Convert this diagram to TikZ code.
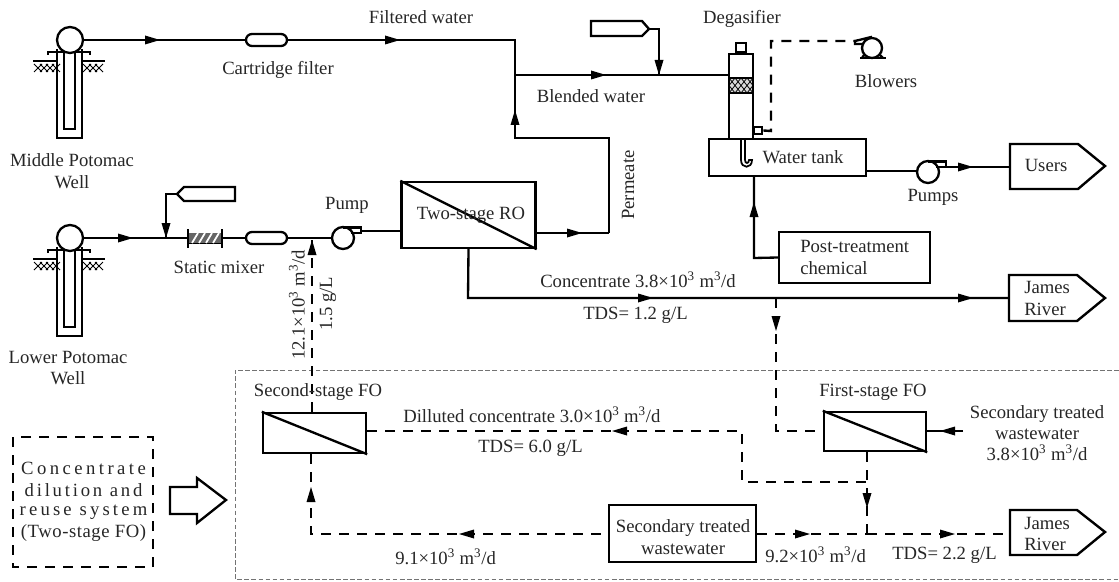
\documentclass[tikz,border=0pt]{standalone}
\usepackage{fontspec}
\setmainfont{Liberation Serif}
\usetikzlibrary{patterns}
\newcommand{\tipR}[2]{\fill[black] ({#1-15},{#2-4.5}) -- (#1,#2) -- ({#1-15},{#2+4.5}) -- cycle;}
\newcommand{\tipL}[2]{\fill[black] ({#1+15},{#2-4.5}) -- (#1,#2) -- ({#1+15},{#2+4.5}) -- cycle;}
\newcommand{\tipU}[2]{\fill[black] ({#1-4.5},{#2+15}) -- (#1,#2) -- ({#1+4.5},{#2+15}) -- cycle;}
\newcommand{\tipD}[2]{\fill[black] ({#1-4.5},{#2-15}) -- (#1,#2) -- ({#1+4.5},{#2-15}) -- cycle;}
\newcommand{\sq}[1]{\textsuperscript{#1}}
\newcommand{\wellsym}[2]{%
  \begin{scope}[shift={(#1,#2)}]
    \draw[pipe] (-13,9) -- (-13,98) -- (12,98) -- (12,9);
    \draw[pipe] (-6,10) -- (-6,89) -- (5,89) -- (5,10);
    \draw[pipe] (-22,15) -- (-22,12) -- (-6,12);
    \draw[pipe] (5,12) -- (20,12) -- (20,15);
    \draw[pipe] (-37,21) -- (-13,21);
    \draw[pipe] (12,21) -- (35,21);
    \foreach \xa in {-36,-30,-24,-18,13,19,25}{
      \draw[line width=0.6pt] (\xa,24) -- ({\xa+4},28) -- (\xa,32);
      \draw[line width=0.6pt] ({\xa+8},24) -- ({\xa+4},28) -- ({\xa+8},32);
    }
  \end{scope}}
\newcommand{\pumpsym}[3]{% x y name
  \node[circle,draw,pipe,fill=white,minimum size=22*0.75pt,inner sep=0] (#3) at (#1,#2) {};
  \draw[pipe] (#1,{#2-10.5}) -- ({#1+18},{#2-10.5}) -- ({#1+18},{#2-5}) -- ({#1+8},{#2-5});
}
\tikzset{
  pipe/.style={line width=1.75pt,line join=miter},
  dpipe/.style={line width=1.8pt,dash pattern=on 7.5pt off 6pt},
  thinbox/.style={draw=black!55,line width=0.6pt,dash pattern=on 3.5pt off 1.8pt},
  boxst/.style 2 args={draw,line width=1.8pt,fill=white,minimum width=#1*0.75pt,minimum height=#2*0.75pt,inner sep=0pt},
  txt/.style={inner sep=0pt,align=center,font=\fontsize{14}{16}\selectfont,text=black!85},
  pillst/.style={draw,line width=1.75pt,fill=white,rounded corners=4.5pt,minimum width=41*0.75pt,minimum height=12*0.75pt,inner sep=0pt},
  sgn/.style={draw,line width=1.8pt,fill=white,line join=miter},
}
\begin{document}
\begin{tikzpicture}[x=0.75pt,y=-0.75pt]
\useasboundingbox (0,0) rectangle (1119,581);
\fill[white] (0,0) rectangle (1119,581);
% reference points
\coordinate (jF) at (515,40);
\coordinate (jB) at (515,75);
\coordinate (permC) at (515,138);
\coordinate (permD) at (609,138);
\coordinate (permE) at (609,233);
\coordinate (hop1a) at (659,29);
\coordinate (hop1b) at (659,75);
\coordinate (hop2a) at (166,194);
\coordinate (hop2b) at (166,238);
\coordinate (concC) at (468,298);
\coordinate (jC) at (776,298);
\coordinate (jD) at (776,431);
\coordinate (retA) at (312,238);
\coordinate (loopA) at (311,534);
\coordinate (dilA) at (742,431);
\coordinate (dilB) at (742,482);
\coordinate (dilC) at (867,482);
\coordinate (jOut) at (867,534);
\coordinate (postA) at (754,258);
\coordinate (swIn) at (963,431);
\coordinate (blA) at (771,131);
\coordinate (blB) at (771,41);
\coordinate (blC) at (855,41);
% outer frame
\draw[thinbox] (1119,370) -- (235,370) -- (235,579) -- (1119,579);
% wells
\wellsym{70}{40}
\wellsym{70}{238}
\node[circle,draw,pipe,fill=white,minimum size=26*0.75pt,inner sep=0] (w1) at (70,40) {};
\node[circle,draw,pipe,fill=white,minimum size=26*0.75pt,inner sep=0] (w2) at (70,238) {};
% units
\node[pillst] (cf1) at (266.5,40) {};
\node[pillst] (cf2) at (266.5,238) {};
\node[boxst={134}{66}] (ro) at (468.5,215) {};
\node[boxst={24}{86},anchor=north] (deg) at (741,53) {};
\node[boxst={10}{9},anchor=south] (cap) at (741,53) {};
\node[boxst={157}{37}] (tank) at (787.5,157.5) {};
\node[boxst={151}{51}] (post) at (854.5,257.5) {};
\node[boxst={103}{40}] (fo2) at (314.5,433) {};
\node[boxst={102}{39}] (fo1) at (875,431.5) {};
\node[boxst={147}{57}] (stw) at (682.5,533.5) {};
\node[boxst={8}{7},anchor=west] (degout) at (753,130.5) {};
% membranes
\draw[pipe] (ro.north west) -- (ro.south east);
\draw[pipe] (fo2.north west) -- (fo2.south east);
\draw[pipe] (fo1.north west) -- (fo1.south east);
% packing in degasifier
\fill[black!15] (730,78) rectangle (752,93);
\draw[line width=0.9pt] (729,78) -- (753,78) (729,93) -- (753,93);
\foreach \xa in {729,735,741,747}{
  \draw[line width=0.6pt] (\xa,78) -- ({\xa+6},85.5) -- (\xa,93);
  \draw[line width=0.6pt] ({\xa+6},78) -- (\xa,85.5) -- ({\xa+6},93);
}
% hook in tank
\draw[line width=1.3pt] (741,139) -- (741,160) .. controls (741,169) and (752,169) .. (752,160) -- (749,160)
  .. controls (749,164) and (745,164) .. (745,160) -- (745,139);
% mixer
\node[draw,line width=1pt,minimum width=34*0.75pt,minimum height=10*0.75pt,inner sep=0] (mix) at (205.5,238.5) {};
\fill[black!60] (188,233) rectangle (222,243);
\foreach \xa in {192,199,206,213}{\draw[white,line width=1.3pt] (\xa,243) -- ({\xa+6},233);}
\draw[pipe] (188,229) -- (188,248) (222,229) -- (222,248);
% hoppers
\node[inner sep=0,minimum size=0] (hop1) at (649,29) {};
\node[inner sep=0,minimum size=0] (hop2) at (177,194) {};
\draw[pipe] (hop1.center) -- (642,21) -- (591,21) -- (591,36) -- (642,36) -- cycle;
\draw[pipe] (hop2.center) -- (184,187) -- (235,187) -- (235,201) -- (184,201) -- cycle;
% pumps and blower
\pumpsym{343}{238}{p1}
\pumpsym{928}{172}{p2}
\node[circle,draw,pipe,fill=white,minimum size=20*0.75pt,inner sep=0] (bl) at (872,48) {};
\draw[pipe] (bl.north) -- (blC) -- (855,44) -- (864,44);
\draw[pipe] (860,58) -- (886,58);
\draw[pipe] (864,55) -- (862,58) (880,55) -- (883,58);
% sign boxes
\draw[sgn] (1010,144) -- (1078,144) -- (1105,166) -- (1078,189) -- (1010,189) -- cycle;
\node[inner sep=0,minimum size=0] (users) at (1010,166.5) {};
\draw[sgn] (1009,275) -- (1077,275) -- (1105,298) -- (1077,321) -- (1009,321) -- cycle;
\node[inner sep=0,minimum size=0] (jr1) at (1009,298) {};
\draw[sgn] (1010,510) -- (1077,510) -- (1105,532) -- (1077,555) -- (1010,555) -- cycle;
\node[inner sep=0,minimum size=0] (jr2) at (1010,534) {};
% solid connectors
\draw[pipe] (w1.east) -- (cf1.west);
\draw[pipe] (cf1.east) -- (jF) -- (jB);
\draw[pipe] (jB) -- (jB -| deg.west);
\draw[pipe] (permE) -- (permD) -- (permC) -- (jB);
\draw[pipe] (ro.east |- permE) -- (permE);
\draw[pipe] (hop1.center) -- (hop1a) -- (hop1b);
\draw[pipe] (w2.east) -- (188,238);
\draw[pipe] (hop2.center) -- (hop2a) -- (hop2b);
\draw[pipe] (222,238) -- (cf2.west);
\draw[pipe] (cf2.east) -- (p1.west);
\draw[pipe] (361,231) -- (ro.west |- 361,231);
\draw[pipe] (ro.south) -- (concC) -- (jr1.center);
\draw[pipe] (tank.east |- 0,171) -- (p2.west |- 0,171);
\draw[pipe] (946,167) -- (users.center |- 0,167);
\draw[pipe] (post.west) -- (postA) -- (postA |- tank.south);
\draw[pipe] (swIn) -- (fo1.east |- swIn);
\draw[pipe] (deg.east |- blA) -- (degout.west);
% dashed connectors
\draw[dpipe] (degout.east) -- (blA) -- (blB) -- (blC);
\draw[dpipe] (fo2.north -| retA) -- (retA);
\draw[dpipe] (fo2.south -| loopA) -- (loopA) -- (stw.west |- loopA);
\draw[dpipe] (jC) -- (jD) -- (fo1.west |- jD);
\draw[dpipe] (fo2.east |- dilA) -- (dilA) -- (dilB) -- (dilC);
\draw[dpipe] (fo1.south -| dilC) -- (jOut);
\draw[dpipe] (stw.east |- jOut) -- (jOut);
\draw[dpipe] (jOut) -- (jr2.center);
% arrow tips
\tipR{160}{40}\tipR{400}{40}\tipR{606}{75}\tipD{659}{75}\tipU{515}{110}\tipR{582}{233}
\tipR{133}{238}\tipD{166}{238}\tipU{312}{240}\tipR{653}{298}\tipR{973}{298}\tipD{776}{331}
\tipU{754}{202}\tipR{973}{167}\tipL{612}{431}\tipL{459}{534}\tipU{311}{487}\tipR{810}{534}
\tipD{867}{508}\tipR{955}{534}\tipL{940}{431}
% legend
\draw[line width=1.9pt,dash pattern=on 7.5pt off 6pt] (13,437) rectangle (153,567);
\draw[line width=1.75pt] (170,487) -- (197,487) -- (197,478) -- (226,500) -- (197,523) -- (197,514) -- (170,514) -- cycle;
% text
\node[txt] (t1) at (421,17) {Filtered water};
\node[txt] (t2) at (278,70) {Cartridge filter};
\node[txt] (t3) at (72,171) {Middle Potomac\\Well};
\node[txt] (t4) at (219,267) {Static mixer};
\node[txt] (t5) at (347,205) {Pump};
\node[txt] (t6) at (471,215) {Two-stage RO};
\node[txt] (t7) at (591,96) {Blended water};
\node[txt,rotate=90] (t8) at (628,185) {Permeate};
\node[txt] (t9) at (742,19) {Degasifier};
\node[txt] (t10) at (886,81) {Blowers};
\node[txt] (t11) at (803,157) {Water tank};
\node[txt] (t12) at (933,197) {Pumps};
\node[txt,align=left,anchor=west] (t13) at (800,257.5) {Post-treatment\\chemical};
\node[txt,anchor=west] (t14) at (540,280) {Concentrate 3.8×10\sq{3} m\sq{3}/d};
\node[txt,anchor=west] (t15) at (583,315) {TDS= 1.2 g/L};
\node[txt] (t16) at (68,368) {Lower Potomac\\Well};
\node[txt,rotate=90] (t17) at (297,305) {12.1×10\sq{3} m\sq{3}/d};
\node[txt,rotate=90] (t18) at (328,304) {1.5 g/L};
\node[txt] (t19) at (318,392) {Second-stage FO};
\node[txt,anchor=west] (t20) at (403,415) {Dilluted concentrate 3.0×10\sq{3} m\sq{3}/d};
\node[txt,anchor=west] (t21) at (478,448) {TDS= 6.0 g/L};
\node[txt,anchor=west] (t22) at (395,557) {9.1×10\sq{3} m\sq{3}/d};
\node[txt] (t23) at (683,537) {Secondary treated\\wastewater};
\node[txt,anchor=west] (t24) at (765,555) {9.2×10\sq{3} m\sq{3}/d};
\node[txt,anchor=west] (t25) at (892,555) {TDS= 2.2 g/L};
\node[txt,align=left,anchor=west] (t26) at (1024,534) {James\\River};
\node[txt,align=left,anchor=west] (t27) at (1024,298.5) {James\\River};
\node[txt] (t28) at (873,392) {First-stage FO};
\node[txt] (t29) at (1037,433) {Secondary treated\\wastewater\\3.8×10\sq{3} m\sq{3}/d};
\node[txt] (t30) at (1046,165) {Users};
\node[txt] (t31) at (83.5,468) {\addfontfeature{LetterSpace=18.5}Concentrate};
\node[txt] (t32) at (83.5,490) {\addfontfeature{LetterSpace=15}dilution and};
\node[txt] (t33) at (83.5,512) {\addfontfeature{LetterSpace=17}reuse system};
\node[txt] (t34) at (83.5,533) {\addfontfeature{LetterSpace=3}(Two-stage FO)};
\end{tikzpicture}
\end{document}
